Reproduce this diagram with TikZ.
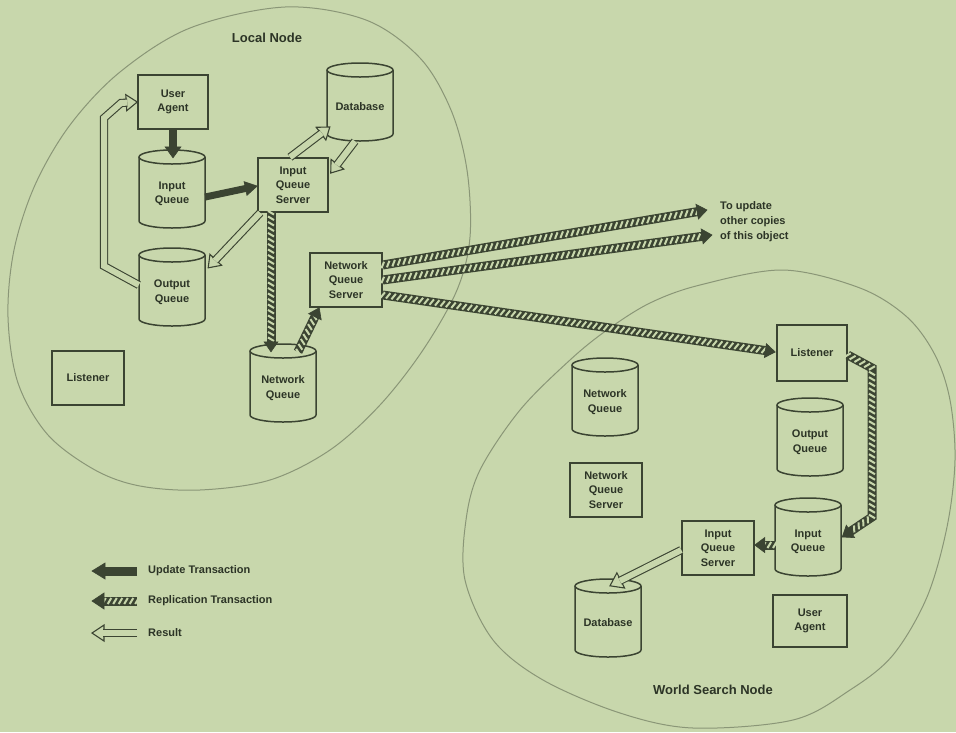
\documentclass[tikz,border=0pt]{standalone}
\usepackage{fontspec}
\setmainfont{Liberation Sans}
\usetikzlibrary{calc,decorations.markings}
\definecolor{bg}{HTML}{C8D7AC}
\definecolor{ink}{HTML}{3B4432}
\definecolor{txt}{HTML}{2C3426}
\definecolor{ell}{HTML}{8A9677}
\newcommand\boxfont{\fontsize{11}{14.5}\selectfont\bfseries}
\newcommand\lblfont{\fontsize{13}{15}\selectfont\bfseries}
\tikzset{
  box/.style={draw=ink, line width=1.5pt, fill=bg, minimum width=70pt, minimum height=54pt,
              align=center, inner sep=1pt, font=\boxfont, text=txt},
  cylshape/.style={minimum width=66pt, minimum height=78pt, inner sep=0pt},
  cyltext/.style={align=center, inner sep=0pt, font=\boxfont, text=txt},
  cylline/.style={draw=ink, line width=1.5pt, fill=bg},
  lbl/.style={font=\lblfont, text=txt, inner sep=1pt},
  legtext/.style={font=\boxfont, text=txt, anchor=west, inner sep=1pt},
  ellline/.style={draw=ell, line width=1pt},
  solidshaft/.style={draw=ink, line width=8pt},
  solidhead/.style={fill=ink, draw=ink, line width=0.6pt, line join=miter},
  hatchshaft/.style={draw=ink, line width=9pt,
     postaction={decorate, decoration={markings,
       mark=between positions 0 and 1 step 5.5pt with {\draw[bg, line width=2pt] (-1.8pt,-3pt) -- (1.8pt,3pt);}}}},
  hatchhead/.style={fill=ink, draw=ink, line width=0.6pt},
  hollowshaft/.style={draw=ink, line width=1.1pt, double=bg, double distance=6pt},
  hollowhead/.style={fill=bg, draw=ink, line width=1.1pt, line join=miter},
}
% arrow head: #1 style, #2 previous point, #3 tip, #4 length, #5 half width
\newcommand\arrtip[5]{%
  \coordinate (tmpb) at ($(#3)!#4!(#2)$);
  \draw[#1] (#3) -- ($(tmpb)!#5!90:(#3)$) -- ($(tmpb)!#5!-90:(#3)$) -- cycle;}
% cylinder: #1 name, #2 x, #3 y, #4 text
\newcommand\cyl[4]{%
  \draw[cylline] (#2-33,#3-32) -- (#2-33,#3+32) arc[start angle=180,end angle=360,x radius=33pt,y radius=7pt] -- (#2+33,#3-32);
  \draw[cylline] (#2,#3-32) ellipse[x radius=33pt,y radius=7pt];
  \node[cylshape] (#1) at (#2,#3) {};
  \node[cyltext] (#1t) at (#2,#3+5) {#4};}
\begin{document}
\begin{tikzpicture}[x=1pt,y=-1pt]
\fill[bg] (0,0) rectangle (956,732);
\useasboundingbox (0,0) rectangle (956,732);

% node outlines
\draw[ellline] plot[smooth cycle, tension=0.55] coordinates {
 (285,7) (366,20) (420,58) (451,110) (467,170) (470,237) (457,290) (423,350) (380,405)
 (330,450) (270,480) (200,490) (140,486) (95,470) (48,435) (18,383) (8,317) (14,250)
 (35,185) (70,125) (120,72) (190,28)};
\draw[ellline] plot[smooth cycle, tension=0.55] coordinates {
 (783,270) (860,288) (907,317) (935,355) (950,400) (955,460) (947,527) (927,597)
 (893,655) (850,690) (793,720) (693,728) (620,713) (543,680) (493,640) (465,580)
 (466,520) (480,470) (520,410) (570,360) (607,330) (650,303) (700,285)};

\node[lbl] (lnlabel) at (267,38) {Local Node};
\node[lbl] (wslabel) at (713,690) {World Search Node};

% Local node components
\node[box] (ua) at (173,102) {User\\Agent};
\cyl{iq}{172}{189}{Input\\Queue}
\node[box] (iqs) at (293,185) {Input\\Queue\\Server};
\cyl{db}{360}{102}{Database}
\cyl{oq}{172}{287}{Output\\Queue}
\node[box, minimum width=72pt] (lis) at (88,378) {Listener};
\cyl{nq}{283}{383}{Network\\Queue}
\node[box, minimum width=72pt] (nqs) at (346,280) {Network\\Queue\\Server};

% World search node components
\node[box, minimum height=56pt] (wlis) at (812,353) {Listener};
\cyl{wnq}{605}{397}{Network\\Queue}
\node[box, minimum width=72pt] (wnqs) at (606,490) {Network\\Queue\\Server};
\cyl{woq}{810}{437}{Output\\Queue}
\cyl{wiq}{808}{537}{Input\\Queue}
\node[box, minimum width=72pt] (wiqs) at (718,548) {Input\\Queue\\Server};
\cyl{wdb}{608}{618}{Database}
\node[box, minimum width=74pt, minimum height=52pt] (wua) at (810,621) {User\\Agent};

\node[anchor=west, align=left, font=\fontsize{11}{15}\selectfont\bfseries, text=txt, inner sep=1pt]
  (note) at (719,222) {To update\\other copies\\of this object};

% endpoints
\coordinate (u1a) at (ua.south);
\coordinate (u1b) at ($(iq.north)+(1,8)$);
\coordinate (u2a) at ($(iq.east)+(0,8)$);
\coordinate (u2b) at ($(iqs.west)+(0,1)$);
\coordinate (r1a) at ($(iqs.south)+(-22,0)$);
\coordinate (r1b) at ($(nq.north)+(-12,8)$);
\coordinate (r2a) at ($(nq.north)+(15,8)$);
\coordinate (r2b) at ($(nqs.south west)+(10,0)$);
\coordinate (r3a) at ($(nqs.east)+(0,-15)$);
\coordinate (c1) at (707,210);
\coordinate (r4a) at (nqs.east);
\coordinate (c2) at (712,235);
\coordinate (r5a) at ($(nqs.east)+(0,15)$);
\coordinate (r5b) at ($(wlis.west)+(-1,-1)$);
\coordinate (r6a) at ($(wlis.east)+(0,2)$);
\coordinate (bend1) at (872,368);
\coordinate (bend2) at (872,517);
\coordinate (r6b) at ($(wiq.east)+(1,0)$);
\coordinate (r7a) at ($(wiq.west)+(0,8)$);
\coordinate (r7b) at ($(wiqs.east)+(0,-3)$);
\coordinate (h1a) at ($(iqs.north)+(-3,0)$);
\coordinate (h1b) at ($(db.west)+(3,25)$);
\coordinate (h2a) at ($(db.south)+(-5,0)$);
\coordinate (h2b) at ($(iqs.east)+(2,-12)$);
\coordinate (h3a) at ($(iqs.south west)+(3,0)$);
\coordinate (h3b) at ($(oq.north east)+(3,20)$);
\coordinate (h4a) at ($(oq.west)+(0,-2)$);
\coordinate (h4p) at (104,266);
\coordinate (h4q) at (104,118);
\coordinate (h4r) at (121,103);
\coordinate (h4b) at (ua.west);
\coordinate (h5a) at ($(wiqs.west)+(0,2)$);
\coordinate (h5b) at ($(wdb.north)+(2,7)$);

% update transactions (solid)
\draw[solidshaft] (u1a) -- ($(u1b)!10pt!(u1a)$);
\arrtip{solidhead}{u1a}{u1b}{11pt}{8pt}
\draw[solidshaft, line width=7pt] (u2a) -- ($(u2b)!10pt!(u2a)$);
\arrtip{solidhead}{u2a}{u2b}{12pt}{7pt}

% replication transactions (hatched)
\draw[hatchshaft] (r1a) -- ($(r1b)!9pt!(r1a)$);
\arrtip{hatchhead}{r1a}{r1b}{10pt}{7pt}
\draw[hatchshaft] (r2a) -- ($(r2b)!9pt!(r2a)$);
\arrtip{hatchhead}{r2a}{r2b}{10pt}{7pt}
\draw[hatchshaft] (r3a) -- ($(c1)!9pt!(r3a)$);
\arrtip{hatchhead}{r3a}{c1}{10pt}{7.5pt}
\draw[hatchshaft] (r4a) -- ($(c2)!9pt!(r4a)$);
\arrtip{hatchhead}{r4a}{c2}{10pt}{7.5pt}
\draw[hatchshaft] (r5a) -- ($(r5b)!9pt!(r5a)$);
\arrtip{hatchhead}{r5a}{r5b}{10pt}{7pt}
\draw[hatchshaft] (r6a) -- (bend1) -- (bend2) -- ($(r6b)!9pt!(bend2)$);
\arrtip{hatchhead}{bend2}{r6b}{10pt}{7.5pt}
\draw[hatchshaft] (r7a) -- ($(r7b)!9pt!(r7a)$);
\arrtip{hatchhead}{r7a}{r7b}{10pt}{7.5pt}

% results (hollow)
\arrtip{hollowhead}{h1a}{h1b}{11pt}{8pt}
\draw[hollowshaft] (h1a) -- ($(h1b)!10pt!(h1a)$);
\arrtip{hollowhead}{h2a}{h2b}{11pt}{8pt}
\draw[hollowshaft] (h2a) -- ($(h2b)!10pt!(h2a)$);
\arrtip{hollowhead}{h3a}{h3b}{11pt}{8pt}
\draw[hollowshaft] (h3a) -- ($(h3b)!10pt!(h3a)$);
\arrtip{hollowhead}{h4r}{h4b}{11pt}{8pt}
\draw[hollowshaft] (h4a) -- (h4p) -- (h4q) -- (h4r) -- ($(h4b)!10pt!(h4r)$);
\arrtip{hollowhead}{h5a}{h5b}{12pt}{8.5pt}
\draw[hollowshaft] (h5a) -- ($(h5b)!11pt!(h5a)$);

% legend
\coordinate (l1a) at (137,571); \coordinate (l1b) at (92,571);
\coordinate (l2a) at (137,601); \coordinate (l2b) at (92,601);
\coordinate (l3a) at (137,633); \coordinate (l3b) at (92,633);
\draw[solidshaft, line width=9pt] (l1a) -- ($(l1b)!12pt!(l1a)$);
\arrtip{solidhead}{l1a}{l1b}{13pt}{8pt}
\draw[hatchshaft] (l2a) -- ($(l2b)!11pt!(l2a)$);
\arrtip{hatchhead}{l2a}{l2b}{12pt}{8pt}
\arrtip{hollowhead}{l3a}{l3b}{12pt}{8pt}
\draw[hollowshaft] (l3a) -- ($(l3b)!11pt!(l3a)$);
\node[legtext] (lt1) at (147,571) {Update Transaction};
\node[legtext] (lt2) at (147,601) {Replication Transaction};
\node[legtext] (lt3) at (147,633) {Result};
\end{tikzpicture}
\end{document}
